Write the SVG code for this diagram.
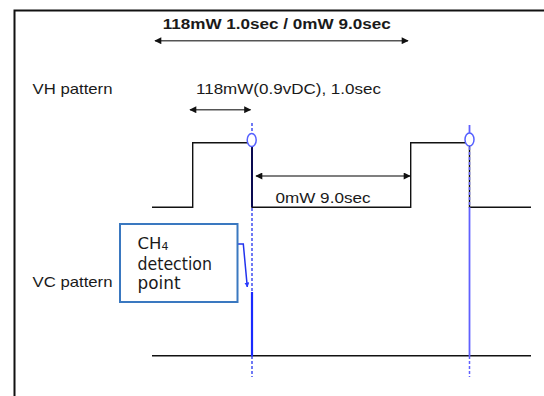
<svg xmlns="http://www.w3.org/2000/svg" width="544" height="396" viewBox="0 0 544 396">
  <defs>
    <marker id="ah" viewBox="0 0 10 10" refX="9" refY="5" markerWidth="8" markerHeight="7" markerUnits="userSpaceOnUse" orient="auto-start-reverse">
      <path d="M0,0 L10,5 L0,10 z" fill="#111"/>
    </marker>
    <marker id="ahb" viewBox="0 0 10 10" refX="9" refY="5" markerWidth="5" markerHeight="5" markerUnits="userSpaceOnUse" orient="auto">
      <path d="M0,0 L10,5 L0,10 z" fill="#2a3cff"/>
    </marker>
  </defs>
  <style>
    .t { font-family: "Liberation Sans", Arial, sans-serif; font-size: 14.5px; fill: #1a1a1a; }
    .b { font-weight: bold; }
    .c { font-family: "DejaVu Sans", Verdana, sans-serif; font-size: 17.5px; fill: #1a1a1a; }
    .c1 { font-size: 16.5px; }
    .sub { font-size: 11px; }
    .dim { stroke: #555; stroke-width: 1.6; fill: none; marker-start: url(#ah); marker-end: url(#ah); }
    .wave { stroke: #111; stroke-width: 1.4; fill: none; }
    .bl { stroke: #2233ee; stroke-width: 1.5; fill: none; }
    .bld { stroke: #2233ee; stroke-width: 1.3; stroke-dasharray: 3 2; fill: none; }
    .bl2 { stroke: #6060ff; stroke-width: 1.8; fill: none; }
    .bl2d { stroke: #6060ff; stroke-width: 1.5; stroke-dasharray: 3 2; fill: none; }
    .ell { stroke: #5560ff; stroke-width: 1.5; fill: #fff; }
  </style>
  <rect width="544" height="396" fill="#fff"/>
  <rect id="frame" x="14.5" y="10.5" width="560" height="420" fill="none" stroke="#111" stroke-width="2"/>

  <g id="title">
    <text class="t b" x="162.7" y="29.3" textLength="228" lengthAdjust="spacingAndGlyphs">118mW 1.0sec / 0mW 9.0sec</text>
  </g>
  <g id="vh-label">
    <text class="t" x="32.5" y="93.5" textLength="80" lengthAdjust="spacingAndGlyphs">VH pattern</text>
  </g>
  <g id="on-label">
    <text class="t" x="196" y="93.5" textLength="185" lengthAdjust="spacingAndGlyphs">118mW(0.9vDC), 1.0sec</text>
  </g>
  <g id="off-label">
    <text class="t" x="275.5" y="202.7" textLength="95" lengthAdjust="spacingAndGlyphs">0mW 9.0sec</text>
  </g>
  <g id="vc-label">
    <text class="t" x="32.5" y="286.5" textLength="80" lengthAdjust="spacingAndGlyphs">VC pattern</text>
  </g>

  <g id="vh-waveform">
    <polyline class="wave" points="152,207.3 192.7,207.3 192.7,142.7 252,142.7 252,207.3 410.7,207.3 410.7,142.7 469.5,142.7 469.5,207.3 531,207.3"/>
  </g>
  <g id="vc-waveform">
    <line class="wave" x1="152" y1="355.7" x2="531" y2="355.7"/>
  </g>

  <g id="connectors">
    <line class="dim" x1="155" y1="40.7" x2="408" y2="40.7"/>
    <line class="dim" x1="190" y1="109.7" x2="250.5" y2="109.7"/>
    <line class="dim" x1="256" y1="176" x2="410" y2="176"/>
    <!-- left detection marker line -->
    <line class="bld" x1="252" y1="123" x2="252" y2="134"/>
    <line stroke="#0a0a50" stroke-width="2" x1="252" y1="146" x2="252" y2="207"/>
    <line class="bld" x1="252" y1="208" x2="252" y2="292"/>
    <line stroke="#1a2aff" stroke-width="2.2" x1="252" y1="292" x2="252" y2="356"/>
    <line class="bld" x1="252" y1="356" x2="252" y2="377"/>
    <!-- right detection marker line -->
    <line class="bl2" x1="469.5" y1="125" x2="469.5" y2="134"/>
    <line class="bl2d" x1="469.5" y1="147" x2="469.5" y2="207"/>
    <line class="bl2" x1="469.5" y1="207" x2="469.5" y2="356"/>
    <line class="bl2d" x1="469.5" y1="356" x2="469.5" y2="377"/>
    <!-- callout pointer -->
    <polyline class="bl" stroke-width="1.2" points="237.5,244 243.3,244 247.3,287" marker-end="url(#ahb)"/>
  </g>

  <g id="marker-left">
    <ellipse class="ell" cx="251.7" cy="140" rx="4.5" ry="6.5"/>
  </g>
  <g id="marker-right">
    <ellipse class="ell" cx="469.5" cy="139.5" rx="4.5" ry="6.5"/>
  </g>

  <g id="ch4-callout">
    <rect x="120" y="224" width="117.5" height="78" fill="#fff" stroke="#3a78c0" stroke-width="2"/>
    <text class="c c1" x="137.5" y="248.5">CH<tspan class="sub" dy="1.5">4</tspan></text>
    <text class="c" x="137.5" y="269.5" textLength="74.5" lengthAdjust="spacingAndGlyphs">detection</text>
    <text class="c" x="137.5" y="289" textLength="43" lengthAdjust="spacingAndGlyphs">point</text>
  </g>
</svg>
